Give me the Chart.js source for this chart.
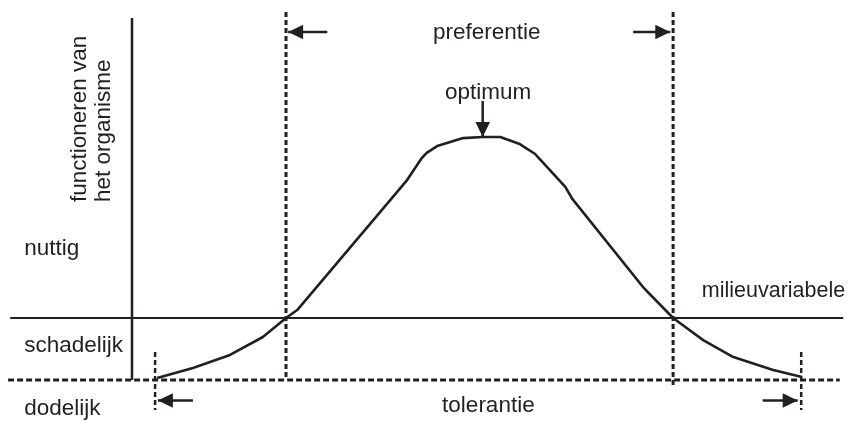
<!DOCTYPE html>
<html>
<head>
<meta charset="utf-8">
<script src="https://cdn.jsdelivr.net/npm/chart.js@4"></script>
<style>
  html, body { margin: 0; padding: 0; background: #ffffff; }
  #wrap { width: 853px; height: 421px; position: relative; }
</style>
</head>
<body>
<div id="wrap"><canvas id="c"></canvas></div>
<script>
// ---- data (schematic units: x = milieuvariabele, y = functioneren; 0 = grens nuttig/schadelijk) ----
const curveX = [3.6, 8.7, 14.0, 18.7, 22.0, 23.6, 39.3, 41.4, 42.1, 43.6, 47.3, 50.1, 52.6, 55.4, 57.6, 61.9, 62.9, 73.0, 77.3, 81.6, 85.9, 91.6, 95.7];
const curveY = [-33.2, -27.6, -20.4, -10.5, 0, 4.4, 76.2, 88.4, 91.2, 95.0, 99.4, 100, 100, 96.1, 90.6, 72.4, 65.8, 17.1, 0, -12.2, -21.6, -28.7, -32.6];

const preferentieX = [22.0, 77.3];   // grenzen van het preferentiegebied
const tolerantieX = [3.3, 95.6];     // grenzen van het tolerantiegebied
const optimumX = 50.1;
const optimumY = 100;
const dodelijkY = -34.25;            // grens schadelijk / dodelijk
const nuttigY = 0;                   // grens nuttig / schadelijk (milieuvariabele-as)

const axisXRange = [-17.4, 101.6];   // solid milieuvariabele line
const deadXRange = [-17.7, 101.1];   // dashed line
const yAxisRange = [165.7, -34.25];  // vertical y axis
const prefTop = 169.1;
const prefBottom = [-34.25, -37.0];
const tolRange = [-18.8, -50.8];

const prefArrowY = 158.0;
const prefArrowLeftX = [27.9, 22.3];
const prefArrowRightX = [71.6, 76.9];
const optArrowY = [119.9, 100];
const tolArrowY = -45.6;
const tolArrowLeftX = [8.7, 3.7];
const tolArrowRightX = [90.1, 95.1];

const labels = {
  preferentie: 'preferentie',
  optimum: 'optimum',
  tolerantie: 'tolerantie',
  milieu: 'milieuvariabele',
  nuttig: 'nuttig',
  schadelijk: 'schadelijk',
  dodelijk: 'dodelijk',
  yTitle: ['functioneren van', 'het organisme']
};

// ---- build ----
const ink = '#231f20';
const pts = (xs, ys) => xs.map((v, i) => ({ x: v, y: ys[i] }));

function line(data, opts) {
  return Object.assign({
    data, showLine: true, borderColor: ink, backgroundColor: ink,
    borderWidth: 2, pointRadius: 0, pointHoverRadius: 0, tension: 0,
    fill: false, clip: false, borderCapStyle: 'butt'
  }, opts || {});
}

const datasets = [
  line(pts(curveX, curveY), { borderWidth: 2.6, borderJoinStyle: 'round' }),
  line(pts(axisXRange, [nuttigY, nuttigY]), { borderWidth: 2 }),
  line(pts([0, 0], yAxisRange), { borderWidth: 2.5 }),
  line(pts(deadXRange, [dodelijkY, dodelijkY]), { borderWidth: 3, borderDash: [6, 3] }),
  line(pts([preferentieX[0], preferentieX[0]], [prefTop, prefBottom[0]]), { borderWidth: 3, borderDash: [5, 3] }),
  line(pts([preferentieX[1], preferentieX[1]], [prefTop, prefBottom[1]]), { borderWidth: 3, borderDash: [5, 3] }),
  line(pts([tolerantieX[0], tolerantieX[0]], tolRange), { borderWidth: 2.5, borderDash: [5, 3] }),
  line(pts([tolerantieX[1], tolerantieX[1]], tolRange), { borderWidth: 2.5, borderDash: [5, 3] }),
  line(pts(prefArrowLeftX, [prefArrowY, prefArrowY]), { borderWidth: 2.5, arrow: true }),
  line(pts(prefArrowRightX, [prefArrowY, prefArrowY]), { borderWidth: 2.5, arrow: true }),
  line(pts([optimumX, optimumX], optArrowY), { borderWidth: 2.5, arrow: true }),
  line(pts(tolArrowLeftX, [tolArrowY, tolArrowY]), { borderWidth: 2.5, arrow: true }),
  line(pts(tolArrowRightX, [tolArrowY, tolArrowY]), { borderWidth: 2.5, arrow: true })
];

const FONT = '22.5px "Liberation Sans", Arial, sans-serif';
const FONT_SMALL = '21.5px "Liberation Sans", Arial, sans-serif';

const overlay = {
  id: 'overlay',
  afterDatasetsDraw(chart) {
    const { ctx } = chart;
    const sx = chart.scales.x, sy = chart.scales.y;
    ctx.save();
    // arrowheads at the end point of arrow datasets
    chart.data.datasets.forEach((ds, i) => {
      if (!ds.arrow) return;
      const el = chart.getDatasetMeta(i).data;
      const a = el[el.length - 2], b = el[el.length - 1];
      const ang = Math.atan2(b.y - a.y, b.x - a.x);
      const L = 15, W = 7.3;
      const bx = b.x - L * Math.cos(ang), by = b.y - L * Math.sin(ang);
      ctx.beginPath();
      ctx.moveTo(b.x, b.y);
      ctx.lineTo(bx + W * Math.sin(ang), by - W * Math.cos(ang));
      ctx.lineTo(bx - W * Math.sin(ang), by + W * Math.cos(ang));
      ctx.closePath();
      ctx.fillStyle = ink;
      ctx.fill();
    });
    // texts
    ctx.fillStyle = ink;
    ctx.font = FONT;
    ctx.textBaseline = 'alphabetic';
    ctx.textAlign = 'left';
    const put = (t, x, y) => ctx.fillText(t, sx.getPixelForValue(x), sy.getPixelForValue(y));
    put(labels.preferentie, 43.0, 154.1);
    put(labels.optimum, 44.7, 121.0);
    put(labels.tolerantie, 44.3, -51.9);
    put(labels.nuttig, -15.4, 34.8);
    put(labels.schadelijk, -15.4, -18.8);
    put(labels.dodelijk, -15.4, -53.6);
    ctx.font = FONT_SMALL;
    put(labels.milieu, 81.4, 11.6);
    ctx.font = FONT;
    // rotated y title
    const titleX = [-6.57, -3.14];
    labels.yTitle.forEach((t, i) => {
      ctx.save();
      ctx.translate(sx.getPixelForValue(titleX[i]), sy.getPixelForValue(64.1));
      ctx.rotate(-Math.PI / 2);
      ctx.fillText(t, 0, 0);
      ctx.restore();
    });
    ctx.restore();
  }
};

new Chart(document.getElementById('c'), {
  type: 'scatter',
  data: { datasets },
  options: {
    responsive: true,
    maintainAspectRatio: false,
    animation: false,
    devicePixelRatio: 1,
    layout: { padding: 0 },
    events: [],
    plugins: { legend: { display: false }, tooltip: { enabled: false }, title: { display: false } },
    scales: {
      x: { type: 'linear', display: false, min: -132 / 7, max: (853 - 132) / 7 },
      y: { type: 'linear', display: false, min: (318 - 421) / 1.81, max: 318 / 1.81 }
    }
  },
  plugins: [overlay]
});
</script>
</body>
</html>
